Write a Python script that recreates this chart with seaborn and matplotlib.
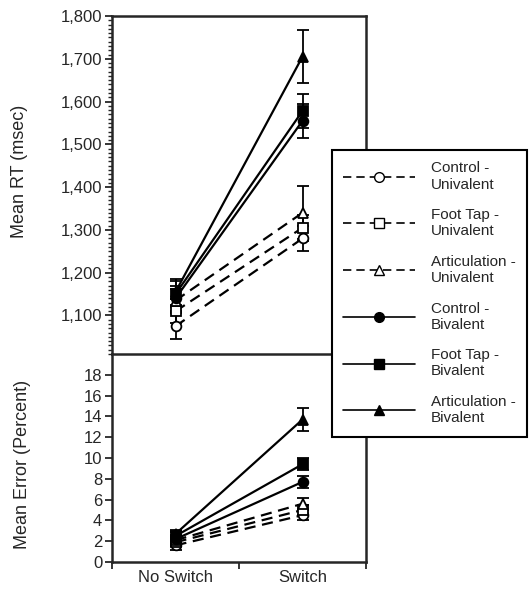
import numpy as np
import pandas as pd
import matplotlib
matplotlib.use('Agg')
import matplotlib.pyplot as plt
from matplotlib.ticker import MultipleLocator, FuncFormatter
import seaborn as sns

# conditions (task x load)
conditions = ['Control - Univalent', 'Foot Tap - Univalent', 'Articulation - Univalent',
              'Control - Bivalent', 'Foot Tap - Bivalent', 'Articulation - Bivalent']
legend_labels = ['Control -\nUnivalent', 'Foot Tap -\nUnivalent', 'Articulation -\nUnivalent',
                 'Control -\nBivalent', 'Foot Tap -\nBivalent', 'Articulation -\nBivalent']
switch_levels = ['No Switch', 'Switch']

# mean RT (msec) and standard errors
rt_no_switch = [1075, 1110, 1135, 1140, 1150, 1155]
rt_switch = [1280, 1305, 1340, 1555, 1578, 1705]
rt_se_no_switch = [30, 28, 28, 30, 30, 30]
rt_se_switch = [30, 30, 62, 40, 40, 62]

# mean error (percent) and standard errors
err_no_switch = [1.6, 1.9, 2.1, 2.2, 2.5, 2.7]
err_switch = [4.5, 5.0, 5.6, 7.7, 9.4, 13.7]
err_se_no_switch = [0.4, 0.4, 0.4, 0.4, 0.4, 0.4]
err_se_switch = [0.5, 0.5, 0.6, 0.6, 0.6, 1.1]

markers = ['o', 's', '^', 'o', 's', '^']

rows = []
for i, c in enumerate(conditions):
    rows.append([c, 'No Switch', rt_no_switch[i], rt_se_no_switch[i], err_no_switch[i], err_se_no_switch[i]])
    rows.append([c, 'Switch', rt_switch[i], rt_se_switch[i], err_switch[i], err_se_switch[i]])
df = pd.DataFrame(rows, columns=['condition', 'switch', 'rt', 'rt_se', 'err', 'err_se'])

sns.set_style('ticks')
plt.rcParams['font.family'] = ['Liberation Sans', 'DejaVu Sans']
plt.rcParams['axes.linewidth'] = 1.8

fig = plt.figure(figsize=(5.31, 5.92), dpi=100)
ax1 = fig.add_axes([112/531, 1 - 354/592, 254/531, 338/592])
ax2 = fig.add_axes([112/531, 1 - 562/592, 254/531, 208/592])

handles = []
for ax, yv, ye in [(ax1, 'rt', 'rt_se'), (ax2, 'err', 'err_se')]:
    for i, c in enumerate(conditions):
        sub = df[df.condition == c]
        univalent = 'Univalent' in c
        sns.lineplot(data=sub, x='switch', y=yv, ax=ax, color='black',
                     linestyle=(0, (5, 3)) if univalent else '-', linewidth=1.6,
                     marker=markers[i], markersize=7,
                     markerfacecolor='white' if univalent else 'black',
                     markeredgecolor='black', markeredgewidth=1.3,
                     errorbar=None, legend=False, zorder=3)
        ax.errorbar(sub['switch'], sub[yv], yerr=sub[ye], fmt='none',
                    ecolor='black', elinewidth=1.3, capsize=4, capthick=1.3, zorder=2)
    ax.set_xlim(-0.5, 1.5)
    ax.set_xlabel('')

for i, c in enumerate(conditions):
    univalent = 'Univalent' in c
    h, = ax1.plot([], [], color='black', linestyle=(0, (5, 3)) if univalent else '-',
                  linewidth=1.2, marker=markers[i], markersize=7,
                  markerfacecolor='white' if univalent else 'black',
                  markeredgecolor='black')
    handles.append(h)

# top panel
ax1.set_ylim(1010, 1800)
ax1.set_yticks(np.arange(1100, 1801, 100))
ax1.yaxis.set_major_formatter(FuncFormatter(lambda v, p: f'{int(v):,}'))
ax1.yaxis.set_minor_locator(MultipleLocator(10))
ax1.set_xticks([])
ax1.spines['bottom'].set_visible(False)
ax1.tick_params(axis='y', which='major', length=5, width=1.3, labelsize=12, pad=2)
ax1.tick_params(axis='y', which='minor', length=3, width=1.0)
ax1.set_ylabel('Mean RT (msec)', fontsize=13)
ax1.yaxis.set_label_coords(-0.33, 0.54)

# bottom panel
ax2.set_ylim(0, 20)
ax2.set_yticks(np.arange(0, 19, 2))
ax2.set_xticks([0, 1])
ax2.set_xticklabels(switch_levels)
ax2.set_xticks([-0.5, 0.5, 1.5], minor=True)
ax2.tick_params(axis='x', which='major', length=0, labelsize=12, pad=6)
ax2.tick_params(axis='x', which='minor', length=5, width=1.3)
ax2.tick_params(axis='y', which='major', length=5, width=1.3, labelsize=12, pad=2)
ax2.set_ylabel('Mean Error (Percent)', fontsize=13)
ax2.yaxis.set_label_coords(-0.32, 0.47)

leg = fig.legend(handles, legend_labels, loc='upper left',
                 bbox_to_anchor=(332/531, 1 - 150/592), bbox_transform=fig.transFigure,
                 borderaxespad=0, borderpad=0.75, handlelength=4.7, handletextpad=1.0,
                 labelspacing=1.08, fontsize=11, fancybox=False, framealpha=1,
                 edgecolor='black')
leg.get_frame().set_linewidth(1.5)

fig.savefig('out.png', dpi=100)
